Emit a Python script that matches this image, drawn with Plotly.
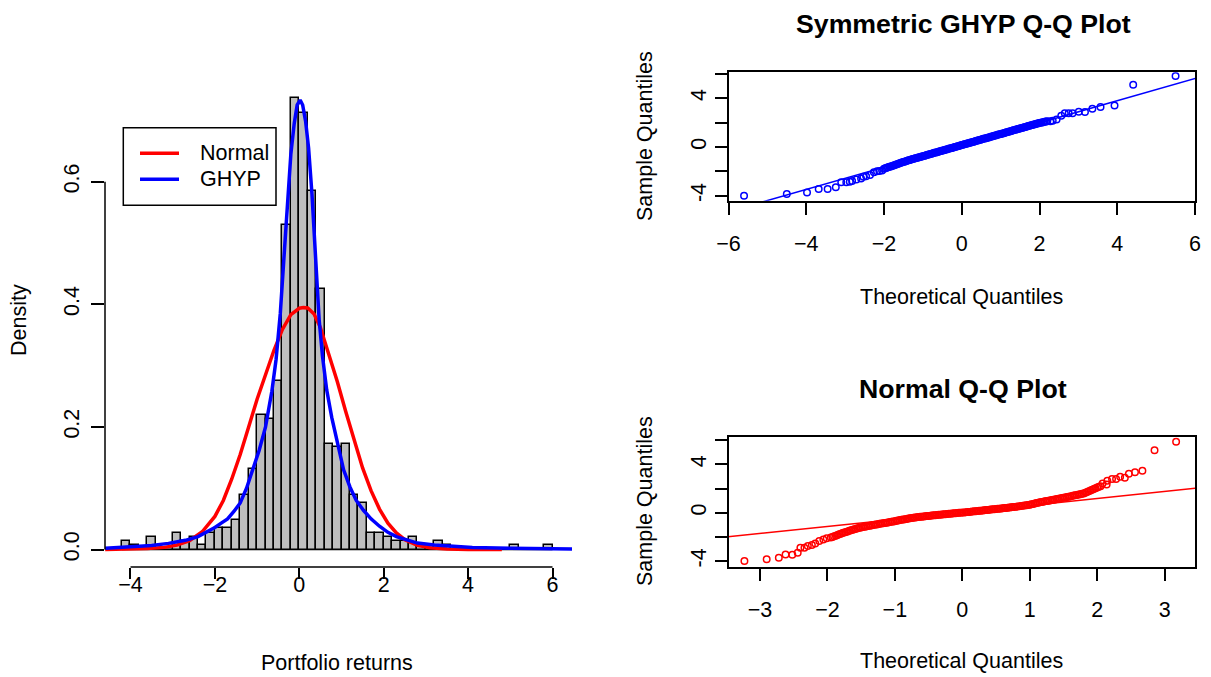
import plotly.graph_objects as go

W, H = 1211, 677
FONT = "Liberation Sans, Arial, Helvetica, sans-serif"

# ---- histogram of portfolio returns (bin width 0.2) ----
bin_left = [-4.2, -4.0, -3.8, -3.6, -3.4, -3.2, -3.0, -2.8, -2.6, -2.4, -2.2, -2.0,
            -1.8, -1.6, -1.4, -1.2, -1.0, -0.8, -0.6, -0.4, -0.2, 0.0, 0.2, 0.4,
            0.6, 0.8, 1.0, 1.2, 1.4, 1.6, 1.8, 2.0, 2.2, 2.4, 2.6, 2.8, 3.0, 3.2,
            3.4, 3.6, 3.8, 4.0, 4.2, 4.4, 4.6, 4.8, 5.0, 5.2, 5.4, 5.6, 5.8]
hist_density = [0.0137, 0.0069, 0.0, 0.0206, 0.0, 0.0, 0.0275, 0.0137, 0.0206, 0.0069,
                0.0275, 0.0344, 0.0344, 0.0481, 0.0894, 0.1306, 0.2200, 0.2131, 0.2750,
                0.5294, 0.7356, 0.7125, 0.5840, 0.4250, 0.1720, 0.1670, 0.1720, 0.0890,
                0.0760, 0.0275, 0.0275, 0.0206, 0.0137, 0.0137, 0.0206, 0.0069, 0.0069,
                0.0137, 0.0069, 0.0, 0.0, 0.0, 0.0, 0.0, 0.0, 0.0, 0.0069, 0.0, 0.0,
                0.0, 0.0069]
bin_width = 0.2

# ---- fitted normal density ----
normal_x = [-4.6, -4.0, -3.6, -3.2, -2.9, -2.6, -2.3, -2.0, -1.8, -1.6, -1.4, -1.2,
            -1.0, -0.8, -0.6, -0.4, -0.2, 0.0, 0.1, 0.2, 0.35, 0.5, 0.7, 0.9, 1.1,
            1.3, 1.5, 1.7, 1.9, 2.1, 2.3, 2.5, 2.8, 3.1, 3.5, 4.0, 4.8]
normal_y = [0.0002, 0.0006, 0.0015, 0.0035, 0.0072, 0.0145, 0.0290, 0.0540, 0.0800,
            0.1150, 0.1550, 0.2000, 0.2450, 0.2850, 0.3250, 0.3590, 0.3830, 0.3935,
            0.3945, 0.3940, 0.3840, 0.3620, 0.3200, 0.2740, 0.2250, 0.1770, 0.1330,
            0.0960, 0.0660, 0.0430, 0.0270, 0.0160, 0.0070, 0.0030, 0.0010, 0.0002,
            0.0000]

# ---- fitted symmetric GHYP density ----
ghyp_x = [-4.6, -4.2, -3.9, -3.5, -3.1, -2.7, -2.4, -2.2, -2.0, -1.85, -1.7, -1.55,
          -1.4, -1.25, -1.1, -0.95, -0.8, -0.65, -0.55, -0.45, -0.35, -0.28, -0.2,
          -0.12, -0.05, 0.02, 0.08, 0.15, 0.22, 0.3, 0.38, 0.47, 0.55, 0.65, 0.77,
          0.9, 1.05, 1.2, 1.35, 1.52, 1.7, 1.9, 2.1, 2.3, 2.55, 2.8, 3.2, 3.6, 4.1,
          5.0, 6.5]
ghyp_y = [0.0020, 0.0035, 0.0046, 0.0065, 0.0100, 0.0150, 0.0210, 0.0280, 0.0360,
          0.0430, 0.0500, 0.0620, 0.0760, 0.1000, 0.1300, 0.1620, 0.2000, 0.2580,
          0.3100, 0.3850, 0.4900, 0.5700, 0.6450, 0.6950, 0.7250, 0.7330, 0.7250,
          0.6980, 0.6550, 0.5800, 0.4800, 0.3750, 0.3150, 0.2600, 0.2150, 0.1750,
          0.1300, 0.1020, 0.0800, 0.0640, 0.0500, 0.0380, 0.0280, 0.0210, 0.0150,
          0.0105, 0.0075, 0.0055, 0.0035, 0.0020, 0.0010]

# ---- Q-Q plot against symmetric GHYP quantiles ----
qq_ghyp_theo = [
    -5.60, -4.50, -3.98, -3.68, -3.45, -3.24, -3.10, -2.97, -2.88, -2.82, -2.71,
    -2.59, -2.53, -2.46, -2.36, -2.26, -2.18, -2.12, -2.05,
    -2.000, -1.965, -1.930, -1.895, -1.860, -1.825, -1.790, -1.755, -1.720, -1.685,
    -1.650, -1.615, -1.580, -1.545, -1.510, -1.475, -1.440, -1.405, -1.370, -1.335,
    -1.300, -1.265, -1.230, -1.195, -1.160, -1.125, -1.090, -1.055, -1.020, -0.985,
    -0.950, -0.915, -0.880, -0.845, -0.810, -0.775, -0.740, -0.705, -0.670, -0.635,
    -0.600, -0.565, -0.530, -0.495, -0.460, -0.425, -0.390, -0.355, -0.320, -0.285,
    -0.250, -0.215, -0.180, -0.145, -0.110, -0.075, -0.040, -0.005, 0.030, 0.065,
    0.100, 0.135, 0.170, 0.205, 0.240, 0.275, 0.310, 0.345, 0.380, 0.415,
    0.450, 0.485, 0.520, 0.555, 0.590, 0.625, 0.660, 0.695, 0.730, 0.765,
    0.800, 0.835, 0.870, 0.905, 0.940, 0.975, 1.010, 1.045, 1.080, 1.115,
    1.150, 1.185, 1.220, 1.255, 1.290, 1.325, 1.360, 1.395, 1.430, 1.465,
    1.500, 1.535, 1.570, 1.605, 1.640, 1.675, 1.710, 1.745, 1.780, 1.815,
    1.850, 1.885, 1.920, 1.955, 1.990, 2.025, 2.060, 2.095, 2.130, 2.165, 2.200,
    2.28, 2.34, 2.44, 2.56, 2.65, 2.75, 2.85, 3.01, 3.17, 3.36, 3.57, 3.93, 4.41, 5.50]
qq_ghyp_sample = [
    -4.00, -3.86, -3.73, -3.45, -3.45, -3.31, -2.90, -2.90, -2.85, -2.79, -2.66,
    -2.58, -2.44, -2.40, -2.30, -2.08, -2.00, -1.97, -1.92,
    -1.78, -1.74, -1.70, -1.66, -1.63, -1.59, -1.55, -1.51, -1.47, -1.43,
    -1.39, -1.35, -1.32, -1.28, -1.24, -1.20, -1.16, -1.12, -1.09, -1.06,
    -1.02, -0.99, -0.96, -0.93, -0.90, -0.87, -0.83, -0.80, -0.77, -0.74,
    -0.71, -0.67, -0.64, -0.61, -0.58, -0.55, -0.51, -0.48, -0.45, -0.42,
    -0.39, -0.35, -0.32, -0.29, -0.26, -0.23, -0.20, -0.16, -0.13, -0.10,
    -0.07, -0.04, 0.00, 0.03, 0.06, 0.09, 0.12, 0.16, 0.19, 0.22,
    0.25, 0.28, 0.31, 0.35, 0.38, 0.41, 0.44, 0.47, 0.51, 0.54,
    0.57, 0.60, 0.63, 0.67, 0.70, 0.73, 0.76, 0.79, 0.83, 0.86,
    0.89, 0.92, 0.95, 0.98, 1.02, 1.05, 1.08, 1.11, 1.14, 1.18,
    1.21, 1.24, 1.27, 1.30, 1.34, 1.37, 1.40, 1.43, 1.46, 1.50,
    1.53, 1.56, 1.59, 1.62, 1.65, 1.69, 1.72, 1.75, 1.78, 1.81,
    1.85, 1.88, 1.91, 1.94, 1.97, 2.00, 2.02, 2.04, 2.07, 2.09, 2.11,
    2.12, 2.16, 2.27, 2.57, 2.77, 2.77, 2.77, 2.90, 2.88, 3.15, 3.29, 3.42, 5.12, 5.83]
ghyp_qqline = (0.16, 0.911)   # intercept, slope

# ---- normal Q-Q plot ----
qq_norm_theo = [
    -3.23, -2.90, -2.72, -2.62, -2.52, -2.44, -2.40, -2.34, -2.29, -2.23, -2.18,
    -2.12, -2.06, -2.01,
    -1.950, -1.925, -1.900, -1.875, -1.850, -1.825, -1.800, -1.775, -1.750, -1.725,
    -1.700, -1.675, -1.650, -1.625, -1.600, -1.575, -1.550, -1.525, -1.500, -1.475,
    -1.450, -1.425, -1.400, -1.375, -1.350, -1.325, -1.300, -1.275, -1.250, -1.225,
    -1.200, -1.175, -1.150, -1.125, -1.100, -1.075, -1.050, -1.025, -1.000, -0.975,
    -0.950, -0.925, -0.900, -0.875, -0.850, -0.825, -0.800, -0.775, -0.750, -0.725,
    -0.700, -0.675, -0.650, -0.625, -0.600, -0.575, -0.550, -0.525, -0.500, -0.475,
    -0.450, -0.425, -0.400, -0.375, -0.350, -0.325, -0.300, -0.275, -0.250, -0.225,
    -0.200, -0.175, -0.150, -0.125, -0.100, -0.075, -0.050, -0.025, 0.000, 0.025,
    0.050, 0.075, 0.100, 0.125, 0.150, 0.175, 0.200, 0.225, 0.250, 0.275,
    0.300, 0.325, 0.350, 0.375, 0.400, 0.425, 0.450, 0.475, 0.500, 0.525,
    0.550, 0.575, 0.600, 0.625, 0.650, 0.675, 0.700, 0.725, 0.750, 0.775,
    0.800, 0.825, 0.850, 0.875, 0.900, 0.925, 0.950, 0.975, 1.000, 1.025,
    1.050, 1.075, 1.100, 1.125, 1.150, 1.175, 1.200, 1.225, 1.250, 1.275,
    1.300, 1.325, 1.350, 1.375, 1.400, 1.425, 1.450, 1.475, 1.500, 1.525,
    1.550, 1.575, 1.600, 1.625, 1.650, 1.675, 1.700, 1.725, 1.750, 1.775,
    1.800, 1.825, 1.850, 1.875, 1.900, 1.925, 1.950, 1.975, 2.000, 2.025, 2.050,
    2.08, 2.14, 2.15, 2.22, 2.28, 2.34, 2.41, 2.47, 2.56, 2.67, 2.85, 3.17]
qq_norm_sample = [
    -4.00, -3.86, -3.73, -3.45, -3.48, -3.31, -2.90, -2.90, -2.76, -2.68, -2.54,
    -2.35, -2.21, -2.12,
    -2.05, -2.00, -1.95, -1.90, -1.84, -1.78, -1.73, -1.68, -1.63, -1.59,
    -1.55, -1.50, -1.45, -1.40, -1.36, -1.32, -1.29, -1.25, -1.22, -1.19,
    -1.16, -1.13, -1.10, -1.07, -1.05, -1.02, -1.00, -0.97, -0.95, -0.92,
    -0.90, -0.87, -0.85, -0.82, -0.80, -0.77, -0.75, -0.72, -0.70, -0.67,
    -0.64, -0.61, -0.59, -0.56, -0.54, -0.51, -0.48, -0.46, -0.44, -0.42,
    -0.40, -0.38, -0.36, -0.34, -0.33, -0.31, -0.29, -0.27, -0.26, -0.24,
    -0.23, -0.21, -0.20, -0.18, -0.17, -0.16, -0.145, -0.13, -0.12, -0.10,
    -0.09, -0.075, -0.06, -0.05, -0.035, -0.02, -0.01, 0.005, 0.02, 0.03,
    0.045, 0.06, 0.07, 0.085, 0.10, 0.115, 0.13, 0.145, 0.16, 0.175,
    0.19, 0.205, 0.22, 0.235, 0.25, 0.265, 0.28, 0.295, 0.31, 0.325,
    0.34, 0.355, 0.37, 0.385, 0.40, 0.415, 0.43, 0.45, 0.47, 0.485,
    0.50, 0.52, 0.54, 0.56, 0.58, 0.60, 0.62, 0.645, 0.67, 0.70,
    0.73, 0.765, 0.80, 0.83, 0.86, 0.89, 0.92, 0.945, 0.97, 0.995,
    1.02, 1.05, 1.08, 1.105, 1.13, 1.16, 1.19, 1.215, 1.24, 1.27,
    1.30, 1.325, 1.35, 1.385, 1.42, 1.45, 1.48, 1.51, 1.54, 1.57,
    1.60, 1.66, 1.72, 1.785, 1.85, 1.91, 1.97, 2.03, 2.09, 2.145, 2.20,
    2.43, 2.35, 2.65, 2.79, 2.79, 2.98, 2.90, 3.23, 3.35, 3.48, 5.17, 5.88]
norm_qqline = (0.02, 0.58)

hist_ticks = [-4, -2, 0, 2, 4, 6]
dens_ticks = [0.0, 0.2, 0.4, 0.6]
ghyp_xticks = [-6, -4, -2, 0, 2, 4, 6]
norm_xticks = [-3, -2, -1, 0, 1, 2, 3]
sample_ticks = [-4, -2, 0, 2, 4, 6]
sample_ticktext = ["-4", "", "0", "", "4", ""]

RED, BLUE = "#FF0000", "#0000FF"


def px_x(p):
    return p / W


def px_y(p):
    return 1 - p / H


fig = go.Figure()

# histogram bars
mids = [b + bin_width / 2 for b in bin_left]
fig.add_trace(go.Bar(x=mids, y=hist_density, width=bin_width,
                     marker=dict(color="#BEBEBE", line=dict(color="black", width=1.5)),
                     xaxis="x", yaxis="y", showlegend=False, hoverinfo="skip"))
fig.add_trace(go.Scatter(x=normal_x, y=normal_y, mode="lines",
                         line=dict(color=RED, width=3.5), xaxis="x", yaxis="y",
                         showlegend=False))
fig.add_trace(go.Scatter(x=ghyp_x, y=ghyp_y, mode="lines",
                         line=dict(color=BLUE, width=3.5), xaxis="x", yaxis="y",
                         showlegend=False))

# GHYP Q-Q
qq_marker = dict(symbol="circle-open", size=6.5)
fig.add_trace(go.Scatter(x=qq_ghyp_theo, y=qq_ghyp_sample, mode="markers",
                         marker=dict(color=BLUE, line=dict(width=1.5, color=BLUE),
                                     **qq_marker),
                         xaxis="x2", yaxis="y2", showlegend=False))
a, b = ghyp_qqline
fig.add_trace(go.Scatter(x=[-7, 7], y=[a + b * -7, a + b * 7], mode="lines",
                         line=dict(color=BLUE, width=1.5), xaxis="x2", yaxis="y2",
                         showlegend=False))

# Normal Q-Q
fig.add_trace(go.Scatter(x=qq_norm_theo, y=qq_norm_sample, mode="markers",
                         marker=dict(color=RED, line=dict(width=1.5, color=RED),
                                     **qq_marker),
                         xaxis="x3", yaxis="y3", showlegend=False))
a, b = norm_qqline
fig.add_trace(go.Scatter(x=[-4, 4], y=[a + b * -4, a + b * 4], mode="lines",
                         line=dict(color=RED, width=1.5), xaxis="x3", yaxis="y3",
                         showlegend=False))

tickfont = dict(family=FONT, size=21.5, color="black")
common = dict(showgrid=False, zeroline=False, ticks="outside",
              tickwidth=1.5, tickcolor="black", tickfont=tickfont, automargin=False)

fig.update_layout(
    template="none",
    width=W, height=H, margin=dict(l=0, r=0, t=0, b=0, pad=0, autoexpand=False),
    paper_bgcolor="white", plot_bgcolor="white", showlegend=False, bargap=0,
    xaxis=dict(domain=[px_x(105), px_x(572)], range=[-4.604, 6.462],
               tickvals=hist_ticks, showline=False, anchor="y", ticklen=11,
               ticklabelstandoff=-13, **common),
    yaxis=dict(domain=[px_y(567), px_y(78)], range=[-0.0285, 0.769],
               tickvals=dens_ticks, ticktext=["0.0", "0.2", "0.4", "0.6"],
               tickangle=-90, showline=False, anchor="x", ticklen=13,
               ticklabelstandoff=3, **common),
    xaxis2=dict(domain=[px_x(728.5), px_x(1195)], range=[-6, 6],
                tickvals=ghyp_xticks, showline=True, mirror=True, linecolor="black",
                linewidth=1.5, anchor="y2", ticklen=13, ticklabelstandoff=10, **common),
    yaxis2=dict(domain=[px_y(200.7), px_y(72.3)], range=[-4.41, 6.14],
                tickvals=sample_ticks, ticktext=sample_ticktext, tickangle=-90,
                showline=True, mirror=True, linecolor="black", linewidth=1.5,
                anchor="x2", ticklen=12, ticklabelstandoff=0, **common),
    xaxis3=dict(domain=[px_x(728.5), px_x(1195)], range=[-3.466, 3.45],
                tickvals=norm_xticks, showline=True, mirror=True, linecolor="black",
                linewidth=1.5, anchor="y3", ticklen=13, ticklabelstandoff=10, **common),
    yaxis3=dict(domain=[px_y(566.7), px_y(437.3)], range=[-4.47, 6.25],
                tickvals=sample_ticks, ticktext=sample_ticktext, tickangle=-90,
                showline=True, mirror=True, linecolor="black", linewidth=1.5,
                anchor="x3", ticklen=12, ticklabelstandoff=0, **common),
)

shapes = [
    # axis lines of the histogram panel span only the labelled ticks
    dict(type="line", xref="x", yref="y domain", x0=-4, x1=6, y0=0, y1=0,
         line=dict(color="black", width=1.5)),
    dict(type="line", xref="x domain", yref="y", x0=0, x1=0, y0=0, y1=0.6,
         line=dict(color="black", width=1.5)),
    # zero-height bins still show their outline along the baseline
    dict(type="line", xref="x", yref="y", x0=bin_left[0], x1=bin_left[-1] + bin_width,
         y0=0, y1=0, line=dict(color="black", width=1.5), layer="below"),
    # legend frame and keys
    dict(type="rect", xref="paper", yref="paper", x0=px_x(123.3), x1=px_x(276),
         y0=px_y(205.3), y1=px_y(127.7), line=dict(color="black", width=1.5),
         fillcolor="white"),
    dict(type="line", xref="paper", yref="paper", x0=px_x(140), x1=px_x(179),
         y0=px_y(153.3), y1=px_y(153.3), line=dict(color=RED, width=3.5)),
    dict(type="line", xref="paper", yref="paper", x0=px_x(140), x1=px_x(179),
         y0=px_y(179.3), y1=px_y(179.3), line=dict(color=BLUE, width=3.5)),
]
fig.update_layout(shapes=shapes)


def label(text, x, y, size=21.5, bold=False, angle=0, xanchor="center"):
    t = f"<b>{text}</b>" if bold else text
    fig.add_annotation(text=t, x=px_x(x), y=px_y(y), xref="paper", yref="paper",
                       showarrow=False, xanchor=xanchor, yanchor="middle",
                       textangle=angle,
                       font=dict(family=FONT, size=size, color="black"))


label("Normal", 197.7, 153.3, xanchor="left")
label("GHYP", 197.7, 179.3, xanchor="left")
label("Portfolio returns", 337, 663)
label("Density", 19, 320, angle=-90)
label("Symmetric GHYP Q-Q Plot", 963, 24, size=26.7, bold=True)
label("Theoretical Quantiles", 962, 297)
label("Sample Quantiles", 645, 136, angle=-90)
label("Normal Q-Q Plot", 963, 389, size=26.7, bold=True)
label("Theoretical Quantiles", 962, 661)
label("Sample Quantiles", 645, 501, angle=-90)

fig.write_html("out.html")
